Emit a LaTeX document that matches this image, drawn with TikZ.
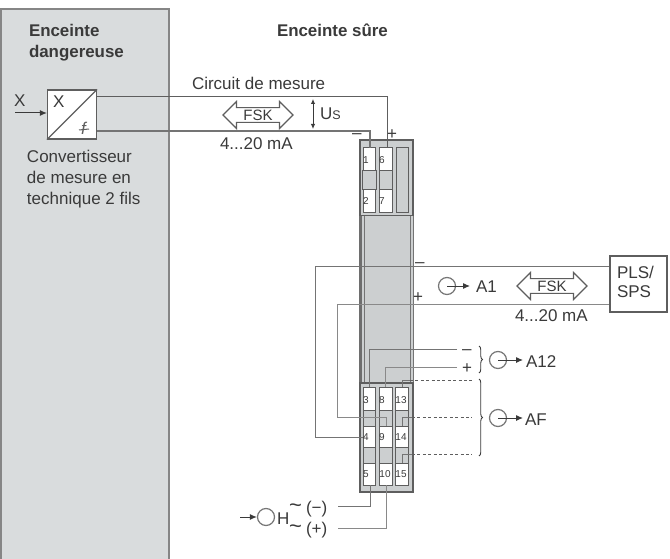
\documentclass[tikz,border=0pt]{standalone}
\usepackage{fontspec}
\setmainfont{Liberation Sans}
\usetikzlibrary{shapes.arrows,arrows.meta,decorations.pathreplacing}
\definecolor{ink}{HTML}{3A3A3A}
\definecolor{wire}{HTML}{5E5E5E}
\definecolor{soft}{HTML}{747474}
\definecolor{panel}{HTML}{D9DCDD}
\definecolor{modfill}{HTML}{CCCFD0}
\tikzset{
  x=1pt,y=-1pt,
  lab/.style={inner sep=0pt,outer sep=0pt,anchor=base west,text=ink,font=\fontsize{17}{20}\selectfont},
  blab/.style={lab,font=\fontsize{16.9}{21}\selectfont\bfseries},
  tiny/.style={inner sep=0pt,text=ink,font=\fontsize{10}{10}\selectfont},
  wireline/.style={draw=soft,line width=1pt},
  wirethick/.style={draw=wire,line width=1.4pt},
  lightwire/.style={draw=soft!85,line width=1pt},
  dots/.style={draw=wire,line width=1pt,dash pattern=on 3pt off 2.4pt},
  term/.style={draw=wire,fill=white,line width=1pt,inner sep=0pt,minimum width=12.5pt,rectangle},
  sep/.style={draw=wire,fill=modfill,line width=1pt},
  meter/.style={circle,draw=wire!85,line width=1.2pt,minimum size=17pt,inner sep=0pt},
  fsk/.style={double arrow,draw=wire,line width=1.2pt,fill=white,text=ink,inner xsep=0pt,inner ysep=1pt,
    minimum height=70pt,minimum width=27pt,double arrow head extend=6pt,
    text height=10.8pt,text depth=0.5pt,
    font=\fontsize{15}{15}\selectfont},
  tip/.style={-{Latex[length=7pt,width=6pt]},draw=ink,line width=1pt},
  brace/.style={draw=ink,line width=0.9pt,decorate,decoration={brace,amplitude=3.5pt}},
}
\newcommand{\tildemark}{\makebox[17pt][l]{\raisebox{1pt}[0pt][0pt]{\fontsize{22}{20}\selectfont\char"7E}}}
\begin{document}
\begin{tikzpicture}
\useasboundingbox (0,0) rectangle (670,559);
\fill[white] (0,0) rectangle (670,559);
% hazardous area
\path[fill=panel,draw=wire!75,line width=1.4pt] (1,559) -- (1,9) -- (169,9) -- (169,559);
\node[blab] (t1) at (29,37) {Enceinte};
\node[blab] (t2) at (29,58) {dangereuse};
\node[blab] (t3) at (277,37) {Enceinte sûre};
% converter
\node[draw=wire,fill=white,line width=1.2pt,minimum size=49pt,inner sep=0pt] (conv) at (72,114.5) {};
\draw[wirethick] (conv.south west) -- (conv.north east);
\node[lab] (cx) at (53,108) {X};
\node[lab,text=wire,font=\fontsize{17}{20}\selectfont\itshape] (cf) at (81,135) {f};
\draw[wire,line width=1pt] (79,130) -- (89,129);
\coordinate (xin) at (15,113);
\draw[tip] (xin) -- (conv.west |- xin);
\node[lab] (xl) at (14,107) {X};
\node[lab] (c1) at (27,163) {Convertisseur};
\node[lab] (c2) at (27,184) {de mesure en};
\node[lab] (c3) at (27,205) {technique 2 fils};
% upper module section
\path[draw=wire,fill=modfill,line width=1.4pt] (360,140) rectangle (413,216);
\node[term,minimum height=65pt] (u1) at (369.5,180.5) {};
\node[term,minimum height=65pt] (u2) at (386,180.5) {};
\node[draw=wire,fill=modfill,line width=1pt,minimum width=12pt,minimum height=65pt,inner sep=0pt] (u3) at (402,180.5) {};
\draw[sep] (u1.west |- 0,171) rectangle (u1.east |- 0,190);
\draw[sep] (u2.west |- 0,171) rectangle (u2.east |- 0,190);
\node[tiny] (n1) at (366,160) {1};
\node[tiny] (n6) at (382,160) {6};
\node[tiny] (n2) at (366,201) {2};
\node[tiny] (n7) at (382,201) {7};
% middle module section
\path[fill=modfill] (360,216) rectangle (413,383);
\draw[draw=wire!90,line width=2.4pt] (360.5,216) -- (360.5,383);
\draw[wireline] (364,216) -- (364,383);
\draw[wireline] (410,216) -- (410,383);
\draw[wireline] (413,216) -- (413,383);
% lower module section
\path[draw=wire,fill=modfill,line width=1.4pt] (360,383) rectangle (413,492);
\foreach \xc/\nm in {369.5/ta,386/tb,402/tc}{
  \node[term,minimum height=98pt,fill=none] (\nm0) at (\xc,436) {};
  \node[term,minimum height=23pt] (\nm1) at (\xc,398.5) {};
  \node[term,minimum height=21pt] (\nm2) at (\xc,436.5) {};
  \node[term,minimum height=22pt] (\nm3) at (\xc,474) {};
}
\foreach \nm/\xc/\yc/\tx in {na/366/400/3,nb/382/400/8,nc/401/400/13,nd/366/437/4,ne/382/437/9,nf/401/437/14,ng/366/474/5,nh/385/474/10,ni/401/474/15}{
  \node[tiny] (\nm) at (\xc,\yc) {\tx};
}
% measuring circuit
\draw[wireline,draw=wire] (conv.east |- 0,97) -- (387,97) -- (387,148);
\draw[wirethick,draw=soft] (conv.east |- 0,131) -- (370,131) -- (370,148);
\node[lab] (cm) at (192,90) {Circuit de mesure};
\node[fsk] (f1) at (258,115) {FSK};
\node[lab] (ma1) at (220,150) {4...20 mA};
\coordinate (usa) at (313,99);
\coordinate (usb) at (313,129);
\draw[{Latex[length=5pt,width=4.5pt]}-{Latex[length=5pt,width=4.5pt]},draw=ink,line width=0.9pt] (usa) -- (usb);
\node[lab] (us) at (320,120) {U\fontsize{12.5}{12}\selectfont S};
\node[lab] (minus1) at (352,139) {–};
\node[lab] (plus1) at (387,140) {+};
% PLS
\node[draw=wire,fill=white,line width=1.2pt,minimum width=57pt,minimum height=56pt,inner sep=0pt] (pls) at (638.5,284) {};
\node[lab] (p1) at (617,278) {PLS/};
\node[lab] (p2) at (617,297) {SPS};
\draw[wireline] (pls.west |- 0,266) -- (315,266) -- (315,437) -- (ta2.west |- 0,437);
\draw[lightwire] (pls.west |- 0,304) -- (337,304) -- (337,417) -- (386,417) -- (tb2.north);
\node[lab] (minus2) at (415,267) {–};
\node[lab] (plus2) at (413,302) {+};
\node[meter] (m1) at (447,286) {};
\coordinate (m1t) at (470,286);
\draw[tip] (m1.center) -- (m1t);
\node[lab] (la1) at (476,292) {A1};
\node[fsk] (f2) at (552,286) {FSK};
\node[lab] (ma2) at (515,321) {4...20 mA};
% A12
\coordinate (e1) at (457,349);
\coordinate (e2) at (457,367);
\draw[wireline] (e1) -- (369,349) -- (369,387);
\draw[lightwire] (e2) -- (385,367) -- (385,387);
\node[lab] (minus3) at (462,354) {–};
\node[lab] (plus3) at (462,373) {+};
\draw[brace] (479,346) -- (479,373);
\node[meter] (m2) at (498,360) {};
\coordinate (m2t) at (523,360);
\draw[tip] (m2.center) -- (m2t);
\node[lab] (a12) at (526,367) {A12};
% AF
\coordinate (d1) at (472,380);
\coordinate (d2) at (472,417);
\coordinate (d3) at (472,454);
\draw[wireline] (tc1.north -| 402,0) -- (402,380) -- (410,380);
\draw[dots] (410,380) -- (d1);
\draw[wireline] (tc2.north -| 402,0) -- (402,417) -- (412,417);
\draw[dots] (412,417) -- (d2);
\draw[wireline] (tc3.north -| 402,0) -- (402,454) -- (412,454);
\draw[dots] (412,454) -- (d3);
\draw[brace] (479,379) -- (479,456);
\node[meter] (m3) at (498,418) {};
\coordinate (m3t) at (523,418);
\draw[tip] (m3.center) -- (m3t);
\node[lab] (af) at (525,425) {AF};
% supply
\coordinate (s1) at (338,506);
\coordinate (s2) at (338,528);
\draw[wireline] (370,485) -- (370,506) -- (s1);
\draw[lightwire] (386,485) -- (386,528) -- (s2);
\node[meter] (m4) at (266,517) {};
\coordinate (m4s) at (240,517);
\draw[tip] (m4s) -- (m4.west);
\node[lab] (hh) at (277,524) {H};
\node[lab] (sm) at (289,513) {\tildemark(−)};
\node[lab] (sp) at (289,534) {\tildemark(+)};
\end{tikzpicture}
\end{document}
